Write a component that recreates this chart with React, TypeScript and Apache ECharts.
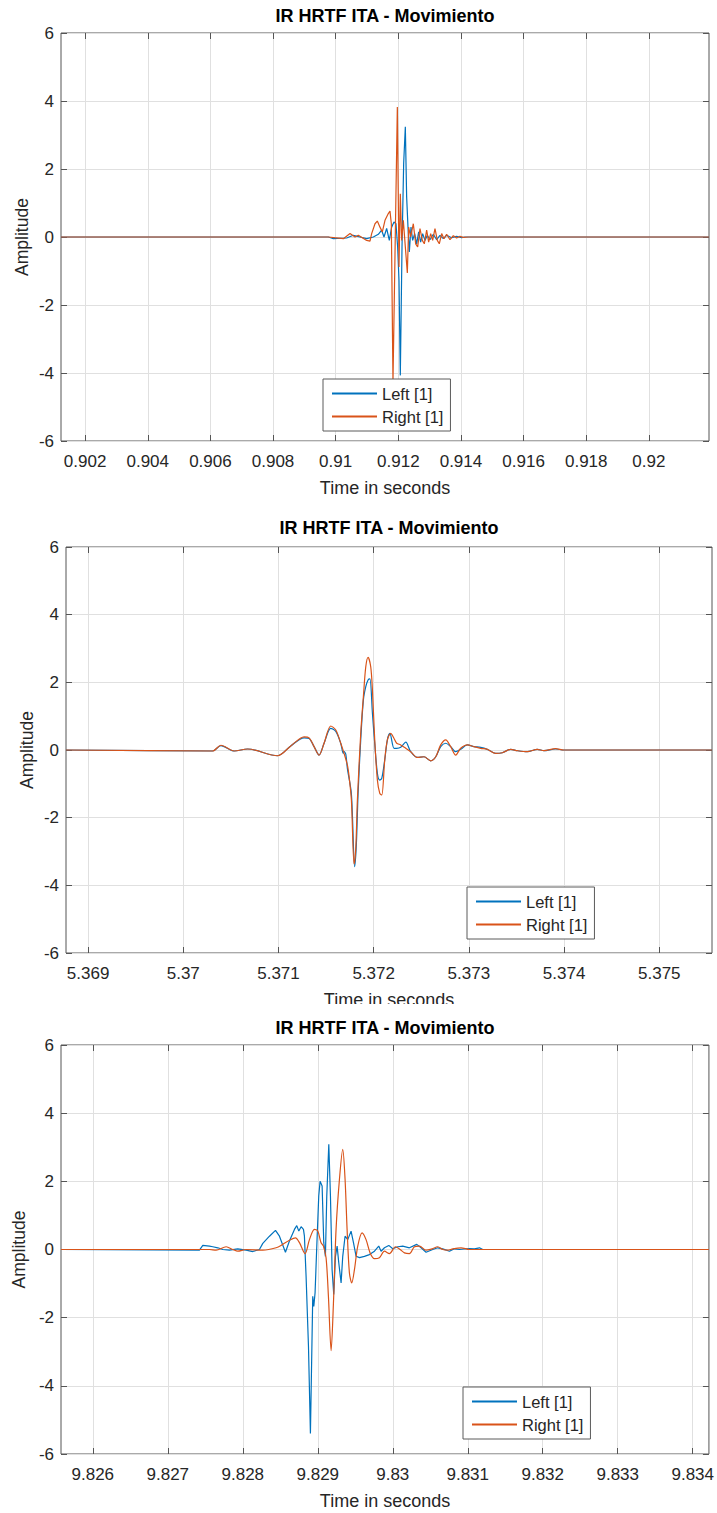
import React, { useEffect, useRef } from "react";
import * as echarts from "echarts";

// ---------- data ----------
const chartTitle = "IR HRTF ITA - Movimiento";
const xAxisTitle = "Time in seconds";
const yAxisTitle = "Amplitude";
const legendNames = ["Left [1]", "Right [1]"];

const yTicks = [-6, -4, -2, 0, 2, 4, 6];

const xRange1 = [0.90123, 0.92192];
const xTicks1 = [0.902, 0.904, 0.906, 0.908, 0.91, 0.912, 0.914, 0.916, 0.918, 0.92];
const left1 = [
  [0.90123, 0], [0.909766, 0], [0.909926, -0.05], [0.910351, -0.03], [0.910564, 0.05], [0.910777, 0],
  [0.91099, -0.05], [0.911202, 0], [0.911362, 0.08], [0.911468, 0.2], [0.911543, 0], [0.911628, 0.25],
  [0.911713, -0.1], [0.911787, 0.29], [0.911862, 0.44], [0.911926, 0.39], [0.911979, -0.3], [0.912022, -1.27],
  [0.912064, -4.07], [0.912118, -0.3], [0.912171, 2.16], [0.912224, 3.24], [0.912266, 1.18], [0.912309, 0.29],
  [0.912352, -0.44], [0.912405, 0.29], [0.912458, -0.1], [0.912522, 0.1], [0.912586, -0.2], [0.91265, 0.15],
  [0.912713, -0.15], [0.912777, 0.1], [0.912852, -0.1], [0.912926, 0.05], [0.913011, -0.08], [0.913118, 0.08],
  [0.913224, -0.08], [0.913331, 0.05], [0.913437, -0.05], [0.913543, 0.05], [0.913703, -0.02], [0.913862, 0.02],
  [0.914022, -0.02], [0.914129, 0], [0.92192, 0],
];
const right1 = [
  [0.90123, 0], [0.909766, 0], [0.910245, -0.05], [0.910458, 0.1], [0.910617, 0], [0.910724, 0.05],
  [0.91099, -0.1], [0.911096, -0.12], [0.911149, 0.1], [0.911256, 0.39], [0.91133, 0.47], [0.911415, 0.29],
  [0.91149, 0.15], [0.911575, 0.49], [0.911681, 0.69], [0.911734, 0.76], [0.911777, 0.39], [0.91183, -4.25],
  [0.911969, 3.82], [0.912022, -0.88], [0.912064, 1.27], [0.912107, -0.1], [0.91216, 0.49], [0.912224, -0.29],
  [0.912288, -1.06], [0.91233, 0.29], [0.912394, 0], [0.912479, 0.39], [0.912554, -0.2], [0.912618, -0.29],
  [0.912692, 0.25], [0.912767, -0.1], [0.91283, -0.2], [0.912905, 0.2], [0.912969, -0.15], [0.913033, 0.1],
  [0.913097, -0.1], [0.913171, 0.25], [0.913245, -0.1], [0.913309, -0.2], [0.913384, 0.1], [0.913458, -0.05],
  [0.913543, 0.08], [0.91365, -0.08], [0.913756, 0.04], [0.913862, -0.03], [0.913969, 0.02], [0.914075, -0.01],
  [0.914235, 0], [0.92192, 0],
];

const xRange2 = [5.368768, 5.375554];
const xTicks2 = [5.369, 5.37, 5.371, 5.372, 5.373, 5.374, 5.375];
const left2 = [
  [5.368768, 0], [5.370307, -0.03], [5.370395, 0.13], [5.370535, -0.03], [5.370675, 0.03], [5.37099, -0.17],
  [5.371129, 0.12], [5.371269, 0.36], [5.371322, 0.34], [5.371374, 0.1], [5.371427, -0.15], [5.371479, 0.2],
  [5.371549, 0.64], [5.371602, 0.55], [5.371654, 0.2], [5.37168, -0.1], [5.371689, -0.05], [5.371707, -0.12],
  [5.371724, -0.55], [5.371766, -1.3], [5.3718, -3.45], [5.371818, -2.8], [5.371836, -1.3], [5.371864, 0.3],
  [5.371892, 1.48], [5.371917, 1.87], [5.371941, 2.07], [5.37196, 2.1], [5.371987, 1.08], [5.372011, 0.2],
  [5.372039, -0.69], [5.372064, -0.89], [5.372085, -0.84], [5.372116, -0.3], [5.372144, 0.3], [5.37217, 0.49],
  [5.372214, 0.05], [5.372242, 0.05], [5.372284, 0.08], [5.372337, 0.23], [5.372389, -0.05], [5.372459, -0.22],
  [5.372529, -0.2], [5.372599, -0.32], [5.372652, -0.2], [5.372704, 0.1], [5.372757, 0.2], [5.372809, 0.1],
  [5.372862, -0.05], [5.372914, 0.02], [5.372984, 0.15], [5.373054, 0.1], [5.373124, 0.08], [5.373194, 0.02],
  [5.373281, -0.1], [5.373352, -0.08], [5.373439, 0.02], [5.373509, -0.02], [5.373614, -0.05], [5.373719, 0.02],
  [5.373789, -0.02], [5.373911, 0.03], [5.373999, 0], [5.375554, 0],
];
const right2 = [
  [5.368768, 0], [5.370307, -0.03], [5.370395, 0.14], [5.370535, -0.03], [5.370675, 0.03], [5.37099, -0.17],
  [5.371129, 0.12], [5.371269, 0.39], [5.371322, 0.36], [5.371374, 0.1], [5.371427, -0.15], [5.371479, 0.2],
  [5.371549, 0.71], [5.371602, 0.59], [5.371654, 0.2], [5.371689, -0.1], [5.371724, -0.45], [5.371742, -0.79],
  [5.371766, -1.48], [5.371794, -3.37], [5.371812, -2.9], [5.371829, -1.48], [5.371864, 0.49], [5.371892, 1.58],
  [5.371917, 2.46], [5.371941, 2.74], [5.371969, 2.46], [5.371987, 1.77], [5.372011, 0.3], [5.372039, -0.89],
  [5.372064, -1.28], [5.372085, -1.33], [5.372116, -0.3], [5.372144, 0.3], [5.372179, 0.49], [5.372214, 0.34],
  [5.372242, 0.2], [5.372284, 0.15], [5.372337, 0.05], [5.372389, -0.05], [5.372459, -0.22], [5.372529, -0.2],
  [5.372599, -0.32], [5.372652, -0.2], [5.372704, 0.15], [5.372757, 0.3], [5.372809, 0.1], [5.372862, -0.15],
  [5.372914, 0.05], [5.372984, 0.15], [5.373054, 0.1], [5.373124, 0.05], [5.373194, 0.02], [5.373281, -0.1],
  [5.373352, -0.08], [5.373439, 0.02], [5.373509, -0.02], [5.373614, -0.05], [5.373719, 0.02], [5.373789, -0.02],
  [5.373911, 0.04], [5.373999, 0], [5.375554, 0],
];

const xRange3 = [9.825576, 9.834216];
const xTicks3 = [9.826, 9.827, 9.828, 9.829, 9.83, 9.831, 9.832, 9.833, 9.834];
const left3 = [
  [9.825576, 0], [9.827422, -0.02], [9.827467, 0.12], [9.827556, 0.1], [9.8276, 0.08], [9.827667, 0.05],
  [9.827733, 0], [9.827822, -0.02], [9.827933, 0.02], [9.828044, -0.02], [9.828133, -0.06], [9.828222, 0],
  [9.828267, 0.18], [9.828356, 0.39], [9.828436, 0.56], [9.828489, 0.39], [9.828569, -0.08], [9.828622, 0.25],
  [9.828689, 0.59], [9.82872, 0.7], [9.828747, 0.54], [9.828778, 0.67], [9.828809, 0.59], [9.828822, 0.39],
  [9.828844, -0.78], [9.828876, -2.84], [9.828902, -5.4], [9.828933, -1.37], [9.828947, -1.67], [9.828964, -1.27],
  [9.828987, 0.1], [9.829013, 1.57], [9.829031, 2.0], [9.829058, 1.86], [9.82908, 0.2], [9.829102, -0.2],
  [9.82912, 1.57], [9.829147, 3.09], [9.829169, 1.57], [9.829191, -0.59], [9.829213, -1.32], [9.829236, -0.2],
  [9.829258, 0.1], [9.82928, -0.39], [9.829311, -0.98], [9.829333, -0.2], [9.829364, 0.39], [9.8294, 0.29],
  [9.829444, 0.54], [9.829476, 0.2], [9.829511, -0.2], [9.829556, -0.24], [9.829622, -0.2], [9.829689, -0.15],
  [9.829756, -0.05], [9.829813, 0.1], [9.829844, -0.05], [9.829889, 0.05], [9.829947, 0.12], [9.83, 0.02],
  [9.830067, 0.08], [9.830133, 0.1], [9.830222, 0.05], [9.83032, 0.15], [9.830378, 0.05], [9.830444, -0.08],
  [9.830533, 0], [9.8306, 0.05], [9.830667, 0.02], [9.830756, -0.05], [9.830822, 0.02], [9.830889, 0],
  [9.831022, 0.03], [9.831089, 0.02], [9.831156, 0.05], [9.8312, 0], [9.834216, 0],
];
const right3 = [
  [9.825576, 0], [9.827556, 0], [9.827644, -0.02], [9.827778, 0.08], [9.827867, 0], [9.827933, -0.05],
  [9.828044, 0], [9.828267, -0.02], [9.828444, 0.05], [9.828533, 0.15], [9.828622, 0.27], [9.828702, 0.34],
  [9.828756, 0.2], [9.828831, -0.12], [9.828889, 0.29], [9.828956, 0.59], [9.829, 0.54], [9.829044, 0.2],
  [9.829076, 0.1], [9.829111, -0.25], [9.829142, -1.37], [9.829178, -2.97], [9.829209, -1.57], [9.829244, 0.59],
  [9.829289, 2.06], [9.829333, 2.94], [9.829364, 2.06], [9.829391, 0.59], [9.829422, -0.69], [9.829453, -0.98],
  [9.829489, -0.59], [9.829533, 0.1], [9.829591, 0.49], [9.829644, 0.29], [9.829698, -0.1], [9.829756, -0.27],
  [9.829822, -0.24], [9.829889, -0.05], [9.829956, -0.12], [9.830036, 0.08], [9.830098, 0], [9.830156, -0.1],
  [9.830222, -0.12], [9.830289, 0.08], [9.830356, 0.1], [9.830444, -0.02], [9.830524, 0.02], [9.8306, 0.08],
  [9.830667, 0], [9.830733, -0.02], [9.8308, 0.02], [9.830911, 0.05], [9.831022, 0], [9.834216, 0],
];

// ---------- layout / style ----------
const BLUE = "#0072BD";
const ORANGE = "#D95319";
const FONT = "Liberation Sans, Arial, Helvetica, sans-serif";
const TEXT = "#262626";
const BOX = "#555555";
const GRIDLINE = "#e0e0e0";

const panels = [
  { grid: { left: 61, top: 33, width: 648, height: 408 }, range: xRange1, ticks: xTicks1, L: left1, R: right1, smoothR: false,
    titleY: 16, ylabX: 22, legend: { left: 323, top: 379 } },
  { grid: { left: 66, top: 547, width: 646, height: 406 }, range: xRange2, ticks: xTicks2, L: left2, R: right2, smoothR: 0.3,
    titleY: 528, ylabX: 27, legend: { left: 467, top: 887 } },
  { grid: { left: 61, top: 1045, width: 648, height: 409 }, range: xRange3, ticks: xTicks3, L: left3, R: right3, smoothR: 0.3,
    titleY: 1028, ylabX: 19, legend: { left: 463, top: 1387 } },
];

const fmt = (v: number) => String(parseFloat(Number(v).toFixed(6)));

export default function App() {
  const ref = useRef<HTMLDivElement>(null);
  useEffect(() => {
    if (!ref.current) return;
    const chart = echarts.init(ref.current, null, { renderer: "svg" });

    const xAxes: any[] = [];
    const yAxes: any[] = [];
    const series: any[] = [];
    const legends: any[] = [];
    const graphics: any[] = [];

    panels.forEach((p, i) => {
      xAxes.push({
        type: "value", gridIndex: i, position: "bottom", min: p.range[0], max: p.range[1],
        axisLine: { show: false, onZero: false },
        axisTick: { show: true, inside: true, length: 6, customValues: p.ticks, lineStyle: { color: BOX } },
        axisLabel: { show: true, customValues: p.ticks, formatter: fmt, margin: 12, fontSize: 17, fontFamily: FONT, color: TEXT },
        splitLine: { show: true, lineStyle: { color: GRIDLINE, width: 1 } },
      });
      yAxes.push({
        type: "value", gridIndex: i, position: "left", min: -6, max: 6, interval: 2,
        axisLine: { show: false, onZero: false },
        axisTick: { show: true, inside: true, length: 6, lineStyle: { color: BOX } },
        axisLabel: { show: true, formatter: (v: number) => String(v), margin: 7, fontSize: 17, fontFamily: FONT, color: TEXT },
        splitLine: { show: true, lineStyle: { color: GRIDLINE, width: 1 } },
      });
    });
    panels.forEach((p, i) => {
      xAxes.push({
        type: "value", gridIndex: i, position: "top", min: p.range[0], max: p.range[1],
        axisLine: { show: false, onZero: false },
        axisTick: { show: true, inside: true, length: 6, customValues: p.ticks, lineStyle: { color: BOX } },
        axisLabel: { show: false }, splitLine: { show: false },
      });
      yAxes.push({
        type: "value", gridIndex: i, position: "right", min: -6, max: 6, interval: 2,
        axisLine: { show: false, onZero: false },
        axisTick: { show: true, inside: true, length: 6, lineStyle: { color: BOX } },
        axisLabel: { show: false }, splitLine: { show: false },
      });
    });

    panels.forEach((p, i) => {
      series.push({
        name: legendNames[0], type: "line", xAxisIndex: i, yAxisIndex: i, data: p.L,
        symbol: "none", showSymbol: false, smooth: i === 1 ? 0.3 : false, lineStyle: { color: BLUE, width: 1.2 },
        itemStyle: { color: BLUE }, silent: true, z: 2,
      });
      series.push({
        name: legendNames[1], type: "line", xAxisIndex: i, yAxisIndex: i, data: p.R,
        symbol: "none", showSymbol: false, smooth: p.smoothR, lineStyle: { color: ORANGE, width: 1.2 },
        itemStyle: { color: ORANGE }, silent: true, z: 3,
      });
      legends.push({
        show: true, orient: "vertical", left: p.legend.left, top: p.legend.top,
        data: legendNames.map((n) => ({ name: n, icon: "rect" })), selectedMode: false,
        itemWidth: 45, itemHeight: 2, itemGap: 6,
        padding: [6, 7, 6, 9],
        backgroundColor: "#ffffff", borderColor: "#5a5a5a", borderWidth: 1, borderRadius: 0,
        textStyle: { fontSize: 16.5, fontFamily: FONT, color: TEXT, lineHeight: 16 },
        z: 10,
      });
      const g = p.grid;
      const cx = g.left + g.width / 2;
      graphics.push({
        type: "text", x: cx, y: p.titleY, z: 100,
        style: { text: chartTitle, fontSize: 18, fontWeight: "bold", fontFamily: FONT, fill: "#000", align: "center", verticalAlign: "middle" },
      });
      graphics.push({
        type: "text", x: p.ylabX, y: g.top + g.height / 2, rotation: Math.PI / 2, z: 100,
        style: { text: yAxisTitle, fontSize: 17.5, fontFamily: FONT, fill: TEXT, align: "center", verticalAlign: "middle" },
      });
      graphics.push({
        type: "text", x: cx, y: g.top + g.height + 47, z: 100,
        style: { text: xAxisTitle, fontSize: 18, fontFamily: FONT, fill: TEXT, align: "center", verticalAlign: "middle" },
      });
    });
    // the next figure covers the lower half of the middle plot's x-axis title
    graphics.push({ type: "rect", z: 101, shape: { x: 250, y: 1004, width: 300, height: 12 }, style: { fill: "#ffffff" } });

    chart.setOption({
      animation: false,
      backgroundColor: "#ffffff",
      grid: panels.map((p) => ({ ...p.grid, show: true, borderColor: BOX, borderWidth: 1, backgroundColor: "transparent" })),
      xAxis: xAxes,
      yAxis: yAxes,
      legend: legends,
      series,
      graphic: graphics,
    });
    return () => chart.dispose();
  }, []);
  return <div ref={ref} style={{ position: "absolute", left: 0, top: 0, width: 717, height: 1513 }} />;
}
